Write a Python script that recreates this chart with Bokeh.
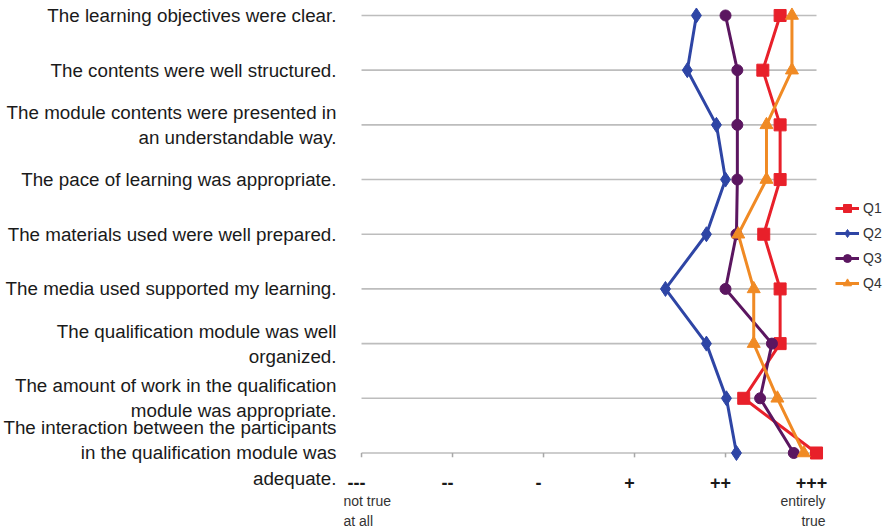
from bokeh.plotting import figure
from bokeh.models import Range1d, FixedTicker
from bokeh.core.properties import value
from bokeh.embed import file_html
from bokeh.resources import INLINE

# ---- data ----
statements = [
    "The learning objectives were clear.",
    "The contents were well structured.",
    "The module contents were presented in\nan understandable way.",
    "The pace of learning was appropriate.",
    "The materials used were well prepared.",
    "The media used supported my learning.",
    "The qualification module was well\norganized.",
    "The amount of work in the qualification\nmodule was appropriate.",
    "The interaction between the participants\nin the qualification module was\nadequate.",
]
rows = [1, 2, 3, 4, 5, 6, 7, 8, 9]

series_names = ["Q1", "Q2", "Q3", "Q4"]
q1 = [5.60, 5.41, 5.60, 5.60, 5.42, 5.60, 5.60, 5.20, 6.00]
q2 = [4.68, 4.58, 4.90, 5.00, 4.79, 4.34, 4.79, 5.01, 5.12]
q3 = [5.00, 5.13, 5.13, 5.13, 5.12, 5.00, 5.51, 5.38, 5.75]
q4 = [5.73, 5.73, 5.45, 5.45, 5.14, 5.31, 5.31, 5.57, 5.86]

scale_ticks = [1, 2, 3, 4, 5, 6]
scale_labels = ["---", "--", "-", "+", "++", "+++"]
low_text = ["not true\nat all"]
high_text = ["entirely\ntrue"]

# ---- style ----
colors = ["#E8202A", "#2E45A5", "#5B1660", "#F08A24"]
markers = ["square", "diamond", "circle", "triangle"]
sizes = [12, 15, 11, 13]
FONT = "Liberation Sans"
GRID = "#BDBDBD"
TICK_LEN = 0.08  # in row units, just below the bottom line

p = figure(width=885, height=532, output_backend="svg", toolbar_location=None,
           x_axis_location=None,
           x_range=Range1d(0.769, 6.758), y_range=Range1d(10.454, 0.726),
           min_border_left=340, min_border_right=0, min_border_top=0,
           min_border_bottom=0)
p.outline_line_color = None
p.background_fill_color = "white"
p.border_fill_color = "white"
p.xgrid.visible = False
p.ygrid.visible = False

# horizontal guide lines spanning the scale (bottom one acts as axis line)
p.segment(x0=scale_ticks[0], x1=scale_ticks[-1], y0=rows, y1=rows,
          line_color=GRID, line_width=1.6)
# tick marks on the scale line
p.segment(x0=scale_ticks, x1=scale_ticks, y0=[rows[-1]] * len(scale_ticks),
          y1=[rows[-1] + TICK_LEN] * len(scale_ticks),
          line_color="#A8A8A8", line_width=1.5)

all_series = [q1, q2, q3, q4]
for name, vals, c, m, s in zip(series_names, all_series, colors, markers, sizes):
    p.line(vals, rows, line_color=c, line_width=3, legend_label=name)
    p.scatter(vals, rows, marker=m, size=s, fill_color=c, line_color=c,
              legend_label=name)

# scale labels
p.text(x=scale_ticks, y=[rows[-1]] * len(scale_ticks), text=scale_labels,
       x_offset=-5, y_offset=30, text_align="center", text_baseline="middle",
       text_font=value(FONT), text_font_size="18px", text_font_style="bold",
       text_color="#1a1a1a")
p.text(x=[scale_ticks[0]], y=[rows[-1]], text=low_text, x_offset=-18, y_offset=58,
       text_align="left", text_baseline="middle", text_font=value(FONT),
       text_font_size="14px", text_color="#333333", text_line_height=1.2)
p.text(x=[scale_ticks[-1]], y=[rows[-1]], text=high_text, x_offset=9, y_offset=58,
       text_align="right", text_baseline="middle", text_font=value(FONT),
       text_font_size="14px", text_color="#333333", text_line_height=1.2)

# y axis with statements
ya = p.yaxis[0]
ya.ticker = FixedTicker(ticks=rows)
ya.major_label_overrides = {r: s for r, s in zip(rows, statements)}
ya.axis_line_color = None
ya.major_tick_line_color = None
ya.minor_tick_line_color = None
ya.major_tick_out = 0
ya.major_tick_in = 0
ya.major_label_standoff = 4
ya.major_label_text_font = FONT
ya.major_label_text_font_size = "18.8px"
ya.major_label_text_color = "#1a1a1a"

# legend
lg = p.legend[0]
lg.location = (495, 239)
lg.border_line_color = None
lg.background_fill_alpha = 0
lg.padding = 0
lg.margin = 0
lg.spacing = 5
lg.glyph_width = 24
lg.glyph_height = 20
lg.label_height = 20
lg.label_standoff = 4
lg.label_text_font = FONT
lg.label_text_font_size = "14px"
lg.label_text_color = "#333333"

open("out.html", "w").write(file_html(p, INLINE))
